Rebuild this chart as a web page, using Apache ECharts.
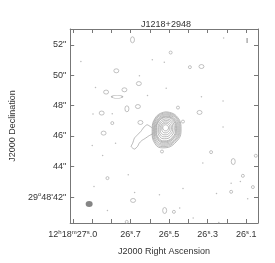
<!DOCTYPE html>
<html><head><meta charset="utf-8">
<script src="https://cdn.jsdelivr.net/npm/echarts@6/dist/echarts.min.js"></script>
<style>html,body{margin:0;padding:0;background:#fff}#c{width:275px;height:263px}</style>
</head><body><div id="c"></div>
<script>
const titleText = 'J1218+2948';
const raTicks = [27.0, 26.9, 26.8, 26.7, 26.6, 26.5, 26.4, 26.3, 26.2, 26.1];
const raLabels = [27.0, 26.7, 26.5, 26.3, 26.1];
const decTicks = [42, 44, 46, 48, 50, 52];

// main source contours [RA seconds, Dec arcsec]
const contour1 = [[26.518,47.59],[26.463,47.33],[26.438,46.47],[26.463,45.62],[26.533,45.22],[26.573,45.49],[26.588,46.28],[26.568,47.26],[26.518,47.59]];
const contour1b = [[26.518,47.53],[26.4655,47.28],[26.443,46.47],[26.468,45.66],[26.532,45.30],[26.5695,45.55],[26.5845,46.29],[26.5655,47.22],[26.518,47.53]];
const contour2 = [[26.518,47.46],[26.468,47.23],[26.448,46.47],[26.470,45.72],[26.530,45.39],[26.566,45.62],[26.580,46.31],[26.563,47.17],[26.518,47.46]];
const contour2b = [[26.518,47.40],[26.472,47.18],[26.453,46.47],[26.474,45.76],[26.529,45.47],[26.562,45.68],[26.577,46.33],[26.559,47.12],[26.518,47.40]];
const contour3 = [[26.518,47.33],[26.476,47.13],[26.458,46.47],[26.478,45.82],[26.528,45.55],[26.558,45.75],[26.573,46.34],[26.556,47.07],[26.518,47.33]];
const contour3b = [[26.518,47.28],[26.479,47.10],[26.462,46.49],[26.4805,45.87],[26.527,45.62],[26.5555,45.80],[26.569,46.36],[26.553,47.03],[26.518,47.28]];
const contour4 = [[26.518,47.23],[26.483,47.07],[26.466,46.51],[26.483,45.91],[26.526,45.68],[26.553,45.85],[26.566,46.38],[26.551,47.00],[26.518,47.23]];
const contour5 = [[26.518,47.13],[26.488,47.00],[26.473,46.54],[26.488,46.01],[26.523,45.82],[26.548,45.95],[26.558,46.41],[26.546,46.93],[26.518,47.13]];
const contour6 = [[26.518,47.03],[26.493,46.93],[26.481,46.54],[26.493,46.11],[26.523,45.95],[26.543,46.05],[26.553,46.44],[26.541,46.87],[26.518,47.03]];
const contour7 = [[26.518,46.93],[26.498,46.84],[26.488,46.54],[26.498,46.21],[26.520,46.08],[26.538,46.15],[26.546,46.47],[26.536,46.80],[26.518,46.93]];
const contour8 = [[26.518,46.84],[26.503,46.77],[26.496,46.54],[26.503,46.31],[26.518,46.21],[26.533,46.28],[26.538,46.51],[26.533,46.74],[26.518,46.84]];
const contour9 = [[26.518,46.74],[26.5075,46.68],[26.503,46.54],[26.5075,46.40],[26.518,46.34],[26.5285,46.40],[26.533,46.54],[26.5285,46.68],[26.518,46.74]];
const tail = [[26.589,46.54],[26.614,46.74],[26.630,46.59],[26.647,46.30],[26.664,46.08],[26.680,45.86],[26.689,45.53],[26.697,45.31],[26.680,45.14],[26.664,45.31],[26.655,45.53],[26.642,45.70],[26.622,45.86],[26.605,46.01],[26.586,46.14]];

// scattered noise contours
const loopsTall = [[26.690,52.33],[26.719,47.79],[26.167,44.32],[26.523,41.10]];
const loopsWide = [[26.332,50.57],[26.774,50.29],[26.657,49.45],[26.827,48.89],[26.732,49.04],[26.662,47.94],[26.850,47.51],[26.342,47.55],[26.649,46.89],[26.840,46.19],[26.687,41.76]];
const loopsLong = [[26.770,48.58]];
const loopsSmall = [[26.492,51.49],[26.392,50.53],[26.454,47.87],[26.795,46.85],[26.428,46.95],[26.537,44.98],[26.282,44.94],[26.050,44.70],[26.820,43.23],[26.117,43.38],[26.065,42.64],[26.178,42.33],[26.475,41.01],[26.720,40.35]];
const dots = [[26.217,52.44],[26.587,51.01],[26.525,50.86],[26.654,49.96],[26.882,49.19],[26.515,49.15],[26.612,48.66],[26.332,48.58],[26.795,47.46],[26.895,47.44],[26.220,48.30],[26.220,46.585],[26.778,45.53],[26.899,45.37],[26.845,44.72],[26.325,44.22],[26.712,43.45],[26.130,43.01],[26.178,42.90],[26.890,42.68],[26.428,42.55],[26.254,42.22],[26.679,42.28],[26.550,42.13],[26.092,41.87],[26.820,41.10],[26.445,41.26],[26.375,40.60],[26.242,40.31],[26.958,50.90]];
const bars = [[26.095,52.28]];
const beam = [[26.915,41.52]];

const FONT = 'Liberation Sans';
const CC = '#a0a0a0';
const chart = echarts.init(document.getElementById('c'));

function raFmt(v){
  if (Math.abs(v-27.0)<1e-6) return '{n|12}{s|h}{n|18}{s|m}{n|27}{s|s}{n|.0}';
  const s = v.toFixed(1).split('.');
  return '{n|'+s[0]+'}{s|s}{n|.'+s[1]+'}';
}
function decFmt(v){
  if (Math.abs(v-42)<1e-6) return '{n|29}{s|o}{n|48\'42"}';
  return '{n|'+v+'"}';
}
const rich = {
  n:{fontSize:9,fontFamily:FONT,color:'#333',verticalAlign:'bottom'},
  s:{fontSize:6,fontFamily:FONT,color:'#333',verticalAlign:'bottom',padding:[0,0,4,0]}
};
const axisLineStyle = {show:true,lineStyle:{color:'#777',width:1}};
function lineSeries(d, smooth){
  return {type:'line',data:d,symbol:'none',smooth:smooth,lineStyle:{color:CC,width:0.75},silent:true,animation:false};
}
function loopSeries(d, size){
  return {type:'scatter',data:d,symbol:'circle',symbolSize:size,itemStyle:{color:'rgba(0,0,0,0)',borderColor:CC,borderWidth:0.8},silent:true,animation:false};
}
const contours = [contour1,contour1b,contour2,contour2b,contour3,contour3b,contour4,contour5,contour6,contour7,contour8,contour9];
const series = contours.map(c=>lineSeries(c,0.5));
series.push(lineSeries(tail,0.2));
series.push(loopSeries(loopsTall,[4,6]));
series.push(loopSeries(loopsWide,[5,4]));
series.push(loopSeries(loopsLong,[11,3]));
series.push(loopSeries(loopsSmall,[3,3]));
series.push({type:'scatter',data:dots,symbol:'circle',symbolSize:1.5,itemStyle:{color:'#aaa'},silent:true,animation:false});
series.push({type:'scatter',data:bars,symbol:'rect',symbolSize:[1.5,5],itemStyle:{color:'#999'},silent:true,animation:false});
series.push({type:'scatter',data:beam,symbol:'circle',symbolSize:[7,6],itemStyle:{color:'#666'},silent:true,animation:false});

chart.setOption({
  animation:false,
  title:{text:titleText,left:161,top:15,textAlign:'center',textStyle:{fontSize:9,fontWeight:'normal',color:'#333',fontFamily:FONT}},
  grid:{left:63,top:29,width:195,height:194},
  xAxis:[{
    type:'value',min:26.0385,max:27.0135,inverse:true,position:'bottom',
    name:'J2000 Right Ascension',nameLocation:'middle',nameGap:24,
    nameTextStyle:{fontSize:9,color:'#333',fontFamily:FONT},
    axisLine:axisLineStyle,splitLine:{show:false},
    axisTick:{show:true,inside:true,length:4,customValues:raTicks,lineStyle:{color:'#777'}},
    axisLabel:{customValues:raLabels,formatter:raFmt,rich:rich,margin:6}
  },{
    type:'value',min:26.0385,max:27.0135,inverse:true,position:'top',
    axisLine:axisLineStyle,splitLine:{show:false},
    axisTick:{show:true,inside:true,length:4,customValues:raTicks,lineStyle:{color:'#777'}},
    axisLabel:{show:false}
  }],
  yAxis:[{
    type:'value',min:40.277,max:53.04,position:'left',
    name:'J2000 Declination',nameLocation:'middle',nameGap:50,
    nameTextStyle:{fontSize:9,color:'#333',fontFamily:FONT},
    axisLine:axisLineStyle,splitLine:{show:false},
    axisTick:{show:true,inside:true,length:4,customValues:decTicks,lineStyle:{color:'#777'}},
    axisLabel:{customValues:decTicks,formatter:decFmt,rich:rich,margin:4}
  },{
    type:'value',min:40.277,max:53.04,position:'right',
    axisLine:axisLineStyle,splitLine:{show:false},
    axisTick:{show:true,inside:true,length:4,customValues:decTicks,lineStyle:{color:'#777'}},
    axisLabel:{show:false}
  }],
  series:series
});
</script></body></html>
